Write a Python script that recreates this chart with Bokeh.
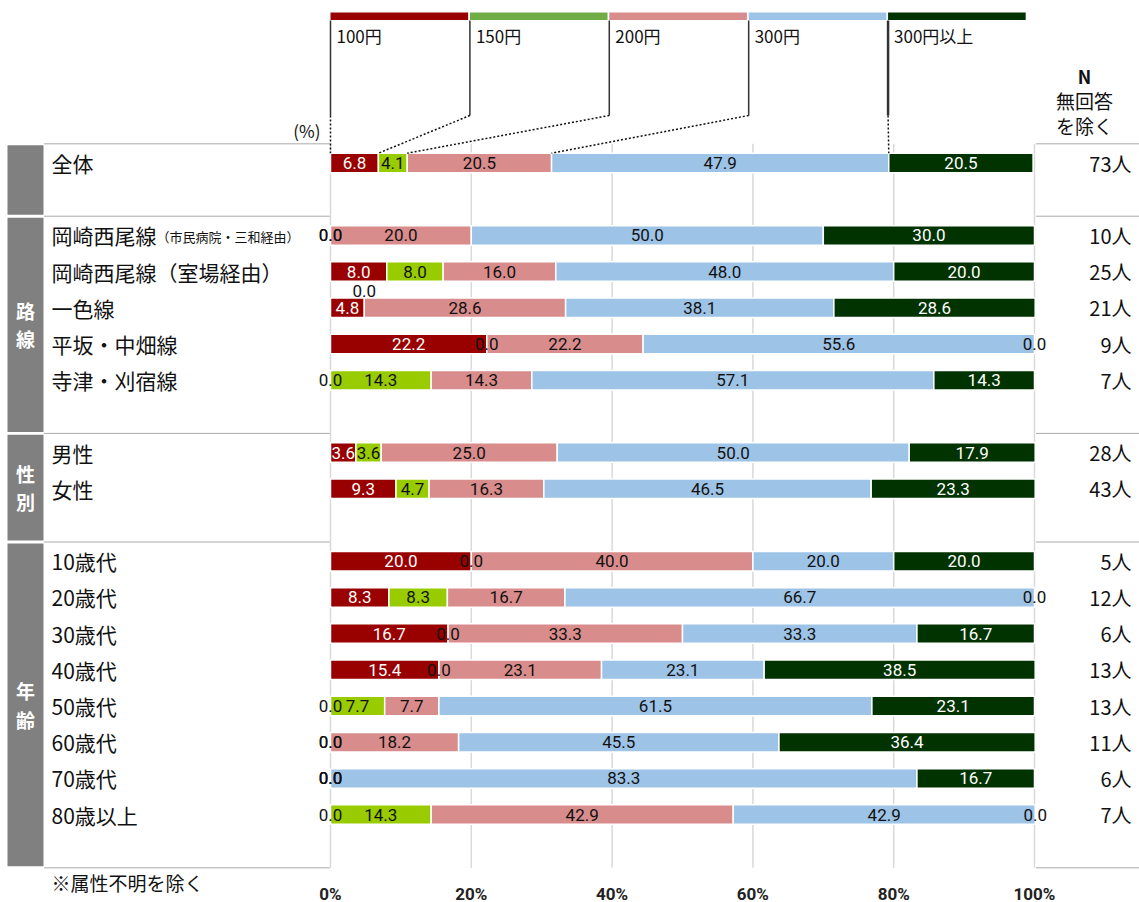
import numpy as np
from bokeh.plotting import figure
from bokeh.models import Range1d, FixedTicker, PrintfTickFormatter, ColumnDataSource
from bokeh.core.properties import value
from bokeh.embed import file_html
from bokeh.resources import INLINE

# ---------------- data ----------------
categories = ["100円", "150円", "200円", "300円", "300円以上"]
row_names = ["全体", "岡崎西尾線", "岡崎西尾線（室場経由）", "一色線", "平坂・中畑線", "寺津・刈宿線",
             "男性", "女性", "10歳代", "20歳代", "30歳代", "40歳代", "50歳代", "60歳代", "70歳代", "80歳以上"]
row_notes = ["", "（市民病院・三和経由）", "", "", "", "", "", "", "", "", "", "", "", "", "", ""]
row_slots = [0, 2, 3, 4, 5, 6, 8, 9, 11, 12, 13, 14, 15, 16, 17, 18]
v100 = [6.8, 0.0, 8.0, 4.8, 22.2, 0.0, 3.6, 9.3, 20.0, 8.3, 16.7, 15.4, 0.0, 0.0, 0.0, 0.0]
v150 = [4.1, 0.0, 8.0, 0.0, 0.0, 14.3, 3.6, 4.7, 0.0, 8.3, 0.0, 0.0, 7.7, 0.0, 0.0, 14.3]
v200 = [20.5, 20.0, 16.0, 28.6, 22.2, 14.3, 25.0, 16.3, 40.0, 16.7, 33.3, 23.1, 7.7, 18.2, 0.0, 42.9]
v300 = [47.9, 50.0, 48.0, 38.1, 55.6, 57.1, 50.0, 46.5, 20.0, 66.7, 33.3, 23.1, 61.5, 45.5, 83.3, 42.9]
v300p = [20.5, 30.0, 20.0, 28.6, 0.0, 14.3, 17.9, 23.3, 20.0, 0.0, 16.7, 38.5, 23.1, 36.4, 16.7, 0.0]
n_counts = [73, 10, 25, 21, 9, 7, 28, 43, 5, 12, 6, 13, 13, 11, 6, 7]
section_names = ["", "路線", "性別", "年齢"]
section_start = [0, 2, 8, 11]
section_end = [2, 8, 11, 20]
x_ticks = [0, 20, 40, 60, 80, 100]
footnote = "※属性不明を除く"

bar_colors = ["#990000", "#99CC00", "#D98C8C", "#9DC3E6", "#003300"]
legend_colors = ["#990000", "#70AD47", "#D98C8C", "#9DC3E6", "#003300"]
label_colors = ["white", "#111111", "#111111", "#111111", "white"]

JP = "Noto Sans CJK JP"
NUM = "Roboto"

# ---------------- geometry helpers ----------------
W, H = 1139, 902
X0, PXPCT = 330.0, 7.04
Y0, PXROW = 162.5, 36.2
BOFF = 0.53


def dx(sx):
    return (sx - X0) / PXPCT


def dy(sy):
    return (sy - Y0) / PXROW


p = figure(width=W, height=H, output_backend="svg", toolbar_location=None,
           x_range=Range1d(dx(0), dx(W)), y_range=Range1d(dy(H), dy(0)),
           y_axis_location=None, min_border_left=0, min_border_right=0,
           min_border_top=0, min_border_bottom=0)
p.xgrid.visible = False
p.ygrid.visible = False
p.outline_line_color = None
p.background_fill_color = "white"

# x axis drawn inside the frame, just under the chart body
ax = p.xaxis[0]
ax.fixed_location = dy(868)
ax.ticker = FixedTicker(ticks=x_ticks)
ax.formatter = PrintfTickFormatter(format="%d%%")
ax.axis_line_color = None
ax.major_tick_line_color = None
ax.minor_tick_line_color = None
ax.major_tick_out = 0
ax.major_tick_in = 0
ax.major_label_standoff = 15
ax.major_label_text_font = NUM
ax.major_label_text_font_size = "17px"
ax.major_label_text_font_style = "bold"
ax.major_label_text_color = "#222222"

# ---------------- section boxes & separators ----------------
bounds = sorted(set(section_start + section_end))
gap = 0.04
p.quad(left=dx(7), right=dx(43),
       top=[s - BOFF + gap for s in section_start],
       bottom=[e - BOFF - gap for e in section_end],
       fill_color="#808080", line_color=None)
by = [b - BOFF for b in bounds]
p.segment(x0=[dx(44)] * len(by), y0=by, x1=[0] * len(by), y1=by,
          line_color="#555555", line_width=1, line_dash="1 1")
p.segment(x0=[dx(1036)] * len(by), y0=by, x1=[dx(1139)] * len(by), y1=by,
          line_color="#555555", line_width=1, line_dash="1 1")

sec_x, sec_y, sec_t = [], [], []
for name, s, e in zip(section_names, section_start, section_end):
    if not name:
        continue
    c = (s + e) / 2 - BOFF
    for i, ch in enumerate(name):
        sec_x.append(dx(25))
        sec_y.append(c + (i - (len(name) - 1) / 2) * 0.78)
        sec_t.append(ch)
p.text(x=sec_x, y=sec_y, text=sec_t, text_color="white", text_font=value(JP),
       text_font_size="19px", text_font_style="bold", text_align="center", text_baseline="middle")

# ---------------- grid ----------------
gtop = section_start[0] - BOFF
gbot = section_end[-1] - BOFF
p.segment(x0=x_ticks, y0=[gtop] * len(x_ticks), x1=x_ticks, y1=[gbot] * len(x_ticks),
          line_color="#D9D9D9", line_width=1.5)

# ---------------- bars ----------------
vals = np.array([v100, v150, v200, v300, v300p])
cum = np.cumsum(vals, axis=0)
starts = cum - vals
slots = np.array(row_slots, dtype=float)
BAR_H = 0.54
for k in range(len(categories)):
    m = vals[k] > 0
    src = ColumnDataSource(dict(y=slots[m], left=starts[k][m], right=cum[k][m]))
    p.hbar(y="y", left="left", right="right", height=BAR_H, source=src,
           fill_color=bar_colors[k], line_color="white", line_width=1.5)

# ---------------- value labels ----------------
lx, ly, lt, lc = [], [], [], []
for k in range(len(categories)):
    for j in range(len(row_slots)):
        v = vals[k][j]
        if v > 0:
            x = starts[k][j] + v / 2
            col = label_colors[k]
            yy = slots[j]
        else:
            x = starts[k][j]
            col = "#111111"
            yy = slots[j]
            if k > 0 and 0 < vals[k - 1][j] < 6:
                yy = slots[j] - 0.47
        lx.append(x)
        ly.append(yy)
        lt.append(f"{v:.1f}")
        lc.append(col)
p.text(x=lx, y=ly, text=lt, text_color=lc, text_font=value(NUM), text_font_size="17px",
       text_align="center", text_baseline="middle")

# ---------------- row labels & N ----------------
ROW_FS = 21
p.text(x=[dx(51)] * len(row_names), y=row_slots, text=row_names, text_color="#111111",
       text_font=value(JP), text_font_size=f"{ROW_FS}px", text_align="left", text_baseline="middle")
nx, ny, nt = [], [], []
for name, note, s in zip(row_names, row_notes, row_slots):
    if note:
        nx.append(dx(51 + len(name) * ROW_FS))
        ny.append(s + 0.03)
        nt.append(note)
p.text(x=nx, y=ny, text=nt, text_color="#111111", text_font=value(JP), text_font_size="13px",
       text_align="left", text_baseline="middle")

p.text(x=[dx(1131)] * len(n_counts), y=row_slots, text=[f"{n}人" for n in n_counts],
       text_color="#111111", text_font=value(JP), text_font_size="20px",
       text_align="right", text_baseline="middle")

p.text(x=[dx(1084)], y=[dy(75)], text=["N"], text_color="#111111", text_font=value(JP),
       text_font_size="18px", text_font_style="bold", text_align="center", text_baseline="middle")
p.text(x=[dx(1084)], y=[dy(100)], text=["無回答"], text_color="#111111",
       text_font=value(JP), text_font_size="19px", text_align="center", text_baseline="middle")
p.text(x=[dx(1084)], y=[dy(125)], text=["を除く"], text_color="#111111",
       text_font=value(JP), text_font_size="19px", text_align="center", text_baseline="middle")
p.text(x=[dx(320)], y=[dy(130)], text=["(%)"], text_color="#111111", text_font=value(JP),
       text_font_size="17px", text_align="right", text_baseline="middle")

# ---------------- legend (top) ----------------
LW = 19.8
nk = len(categories)
lk = np.arange(nk)
p.quad(left=lk * LW, right=(lk + 1) * LW - 0.25, top=[dy(12)] * nk, bottom=[dy(19.5)] * nk,
       fill_color=legend_colors, line_color=None)
p.text(x=lk * LW + 0.85, y=[dy(35)] * nk, text=categories, text_color="#111111",
       text_font=value(JP), text_font_size="17px", text_align="left", text_baseline="middle")
p.segment(x0=lk * LW, y0=[dy(20)] * nk, x1=lk * LW, y1=[dy(115)] * nk,
          line_color="#333333", line_width=[1.5, 1.5, 1.5, 1.5, 2.5])
p.segment(x0=lk * LW, y0=[dy(115)] * nk, x1=starts[:, 0], y1=[row_slots[0] - BAR_H / 2] * nk,
          line_color="#111111", line_width=1.5, line_dash="2 2")

# ---------------- footnote ----------------
p.text(x=[dx(51)], y=[dy(882)], text=[footnote], text_color="#111111", text_font=value(JP),
       text_font_size="19px", text_align="left", text_baseline="middle")

open("out.html", "w").write(file_html(p, INLINE))
